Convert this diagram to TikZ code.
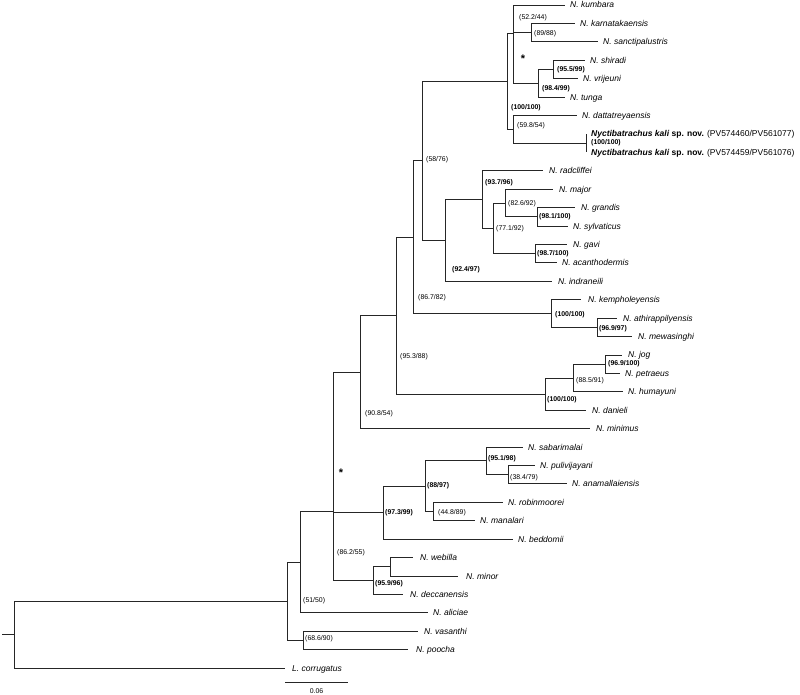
\documentclass[tikz,border=0pt]{standalone}
\usepackage{fontspec}
\setmainfont{Liberation Sans}
\begin{document}
\begin{tikzpicture}[x=1pt,y=-1pt]
\tikzset{
 br/.style={draw=black!85, line width=0.85pt},
 tip/.style={anchor=base west, inner sep=0pt, font=\fontsize{8.5}{10}\selectfont\itshape, yshift=-3pt},
 suplab/.style={anchor=base west, inner sep=0pt, font=\fontsize{6.9}{8}\selectfont, yshift=-2.5pt},
 bsup/.style={anchor=base west, inner sep=0pt, font=\fontsize{6.9}{8}\selectfont\bfseries, yshift=-2.5pt},
 starlab/.style={anchor=center, inner sep=0pt, font=\fontsize{11}{12}\selectfont\bfseries},
}
\useasboundingbox (0,0) rectangle (800,695);
% internal nodes
\coordinate (rs) at (2,634.7);
\coordinate (root) at (14,634.7);
\coordinate (ning) at (287,601.3);
\coordinate (n5150) at (300,562.2);
\coordinate (n686) at (303,640.5);
\coordinate (n862) at (333,511.5);
\coordinate (nstar) at (333,442.4);
\coordinate (n959) at (373,580.6);
\coordinate (nwm) at (390,566.81);
\coordinate (n908) at (360,372.1);
\coordinate (n973) at (383,512.7);
\coordinate (n88) at (425,486.2);
\coordinate (n951) at (486,460.9);
\coordinate (n384) at (508,474.71);
\coordinate (n448) at (433,511.55);
\coordinate (n953) at (396,315.6);
\coordinate (n867) at (413,237.1);
\coordinate (nd100) at (545,394.12);
\coordinate (n885) at (573,378.0);
\coordinate (n9691) at (605,364.19);
\coordinate (n5876) at (422,160.7);
\coordinate (nk100) at (551,313.54);
\coordinate (n969) at (597,327.35);
\coordinate (n924) at (445,240.43);
\coordinate (n937) at (482,199.56);
\coordinate (n771) at (493,228.34);
\coordinate (n826) at (505,203.02);
\coordinate (n981) at (537,216.83);
\coordinate (n987) at (535,253.67);
\coordinate (t100) at (507,81.0);
\coordinate (stt) at (513,33);
\coordinate (n522) at (513,18.82);
\coordinate (n8988) at (531,32.63);
\coordinate (n984) at (538,83.28);
\coordinate (n955) at (553,69.47);
\coordinate (n598) at (513,129.33);
\coordinate (nkali) at (586,143.15);
% tip ends
\coordinate (e1) at (565,5.0);
\coordinate (e2) at (575,23.42);
\coordinate (e3) at (598,41.84);
\coordinate (e4) at (585,60.26);
\coordinate (e5) at (578,78.68);
\coordinate (e6) at (565,97.10);
\coordinate (e7) at (577,115.52);
\coordinate (e8) at (586,133.94);
\coordinate (e9) at (586,152.36);
\coordinate (e10) at (543,170.78);
\coordinate (e11) at (553,189.20);
\coordinate (e12) at (575,207.62);
\coordinate (e13) at (568,226.04);
\coordinate (e14) at (567,244.46);
\coordinate (e15) at (557,262.88);
\coordinate (e16) at (552,281.30);
\coordinate (e17) at (581,299.72);
\coordinate (e18) at (617,318.14);
\coordinate (e19) at (632,336.56);
\coordinate (e20) at (622,354.98);
\coordinate (e21) at (620,373.40);
\coordinate (e22) at (623,391.82);
\coordinate (e23) at (586,410.24);
\coordinate (e24) at (590,428.66);
\coordinate (e25) at (523,447.08);
\coordinate (e26) at (535,465.50);
\coordinate (e27) at (567,483.92);
\coordinate (e28) at (503,502.34);
\coordinate (e29) at (475,520.76);
\coordinate (e30) at (513,539.18);
\coordinate (e31) at (413,557.60);
\coordinate (e32) at (458,576.02);
\coordinate (e33) at (403,594.44);
\coordinate (e34) at (428,612.86);
\coordinate (e35) at (418,631.28);
\coordinate (e36) at (408,649.70);
\coordinate (e37) at (285,668.12);
% branches
\draw[br] (rs) -- (root);
\foreach \p/\c in {root/ning,root/e37,ning/n5150,ning/n686,n686/e35,n686/e36,
 n5150/n862,n5150/e34,n862/nstar,n862/n959,n959/nwm,n959/e33,nwm/e31,nwm/e32,
 nstar/n908,nstar/n973,n973/n88,n973/e30,n88/n951,n88/n448,n951/e25,n951/n384,
 n384/e26,n384/e27,n448/e28,n448/e29,n908/n953,n908/e24,n953/n867,n953/nd100,
 nd100/n885,nd100/e23,n885/n9691,n885/e22,n9691/e20,n9691/e21,n867/n5876,n867/nk100,
 nk100/e17,nk100/n969,n969/e18,n969/e19,n5876/t100,n5876/n924,n924/n937,n924/e16,
 n937/e10,n937/n771,n771/n826,n771/n987,n826/e11,n826/n981,n981/e12,n981/e13,
 n987/e14,n987/e15,t100/stt,t100/n598,stt/n522,stt/n984,n522/e1,n522/n8988,
 n8988/e2,n8988/e3,n984/n955,n984/e6,n955/e4,n955/e5,n598/e7,n598/nkali,
 nkali/e8,nkali/e9}
 \draw[br] (\p) |- (\c);
% tip labels
\node[tip] (l1) at (570,5.0) {N. kumbara};
\node[tip] (l2) at (580,23.42) {N. karnatakaensis};
\node[tip] (l3) at (603,41.84) {N. sanctipalustris};
\node[tip] (l4) at (590,60.26) {N. shiradi};
\node[tip] (l5) at (583,78.68) {N. vrijeuni};
\node[tip] (l6) at (570,97.10) {N. tunga};
\node[tip] (l7) at (582,115.52) {N. dattatreyaensis};
\node[tip,font=\fontsize{8.5}{10}\selectfont] (l8) at (591,133.94) {\textbf{\textit{Nyctibatrachus kali} sp. nov.} (PV574460/PV561077)};
\node[tip,font=\fontsize{8.5}{10}\selectfont] (l9) at (591,152.36) {\textbf{\textit{Nyctibatrachus kali} sp. nov.} (PV574459/PV561076)};
\node[tip] (l10) at (549,170.78) {N. radcliffei};
\node[tip] (l11) at (559,189.20) {N. major};
\node[tip] (l12) at (581,207.62) {N. grandis};
\node[tip] (l13) at (573,226.04) {N. sylvaticus};
\node[tip] (l14) at (573,244.46) {N. gavi};
\node[tip] (l15) at (562,262.88) {N. acanthodermis};
\node[tip] (l16) at (558,281.30) {N. indraneili};
\node[tip] (l17) at (588,299.72) {N. kempholeyensis};
\node[tip] (l18) at (623,318.14) {N. athirappilyensis};
\node[tip] (l19) at (638,336.56) {N. mewasinghi};
\node[tip] (l20) at (628,354.98) {N. jog};
\node[tip] (l21) at (625,373.40) {N. petraeus};
\node[tip] (l22) at (628,391.82) {N. humayuni};
\node[tip] (l23) at (592,410.24) {N. danieli};
\node[tip] (l24) at (596,428.66) {N. minimus};
\node[tip] (l25) at (528,447.08) {N. sabarimalai};
\node[tip] (l26) at (540,465.50) {N. pulivijayani};
\node[tip] (l27) at (572,483.92) {N. anamallaiensis};
\node[tip] (l28) at (508,502.34) {N. robinmoorei};
\node[tip] (l29) at (480,520.76) {N. manalari};
\node[tip] (l30) at (518,539.18) {N. beddomii};
\node[tip] (l31) at (420,557.60) {N. webilla};
\node[tip] (l32) at (466,576.02) {N. minor};
\node[tip] (l33) at (410,594.44) {N. deccanensis};
\node[tip] (l34) at (433,612.86) {N. aliciae};
\node[tip] (l35) at (424,631.28) {N. vasanthi};
\node[tip] (l36) at (416,649.70) {N. poocha};
\node[tip] (l37) at (292,668.12) {L. corrugatus};
% support labels
\node[suplab] (s1) at (519,17) {(52.2/44)};
\node[suplab] (s2) at (534,33) {(89/88)};
\node[starlab] (s3) at (523,59) {*};
\node[bsup] (s4) at (557,69) {(95.5/99)};
\node[bsup] (s5) at (542,88) {(98.4/99)};
\node[bsup] (s6) at (511,107) {(100/100)};
\node[suplab] (s7) at (517,125) {(59.8/54)};
\node[bsup] (s8) at (591,142.5) {(100/100)};
\node[suplab] (s9) at (426,159) {(58/76)};
\node[bsup] (s10) at (485,182) {(93.7/96)};
\node[suplab] (s11) at (508,203) {(82.6/92)};
\node[bsup] (s12) at (539,216) {(98.1/100)};
\node[suplab] (s13) at (496,228) {(77.1/92)};
\node[bsup] (s14) at (537,253) {(98.7/100)};
\node[bsup] (s15) at (452,269) {(92.4/97)};
\node[suplab] (s16) at (418,297) {(86.7/82)};
\node[bsup] (s17) at (555,314) {(100/100)};
\node[bsup] (s18) at (599,328) {(96.9/97)};
\node[suplab] (s19) at (400,356) {(95.3/88)};
\node[bsup] (s20) at (608,363) {(96.9/100)};
\node[suplab] (s21) at (576,380) {(88.5/91)};
\node[bsup] (s22) at (547,399) {(100/100)};
\node[suplab] (s23) at (365,413) {(90.8/54)};
\node[bsup] (s24) at (488,458) {(95.1/98)};
\node[starlab] (s25) at (341,473) {*};
\node[suplab] (s26) at (510,477) {(38.4/79)};
\node[bsup] (s27) at (427,485) {(88/97)};
\node[bsup] (s28) at (385,512) {(97.3/99)};
\node[suplab] (s29) at (438,512) {(44.8/89)};
\node[suplab] (s30) at (337,552) {(86.2/55)};
\node[bsup] (s31) at (375,583) {(95.9/96)};
\node[suplab] (s32) at (303,600) {(51/50)};
\node[suplab] (s33) at (305,638) {(68.6/90)};
% scale bar
\coordinate (sbA) at (285,682);
\coordinate (sbB) at (348,682);
\draw[br] (sbA) -- (sbB);
\node[anchor=center, inner sep=0pt, font=\fontsize{6.9}{8}\selectfont] (sbl) at (316.5,691) {0.06};
\end{tikzpicture}
\end{document}
